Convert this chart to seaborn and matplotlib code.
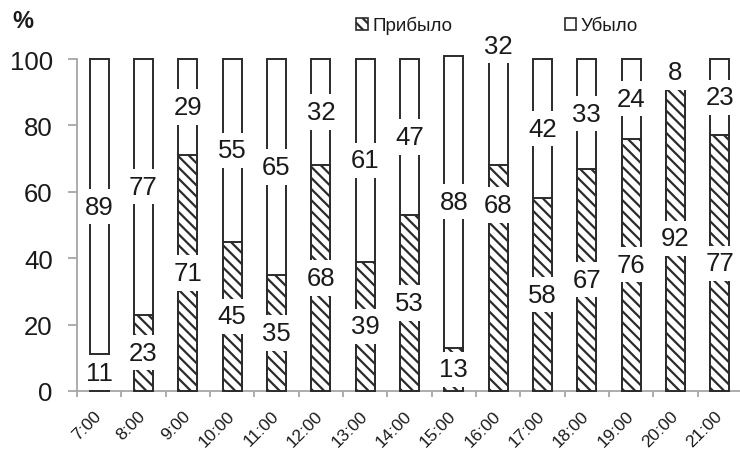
import numpy as np
import pandas as pd
import matplotlib
matplotlib.use("Agg")
import matplotlib.pyplot as plt
import matplotlib.transforms as mtransforms
from matplotlib.patches import Patch
from matplotlib.ticker import FixedLocator
import seaborn as sns

# Hourly shares (%) of arrivals and departures
hours = ["7:00", "8:00", "9:00", "10:00", "11:00", "12:00", "13:00", "14:00",
         "15:00", "16:00", "17:00", "18:00", "19:00", "20:00", "21:00"]
arrived = [11, 23, 71, 45, 35, 68, 39, 53, 13, 68, 58, 67, 76, 92, 77]
departed = [89, 77, 29, 55, 65, 32, 61, 47, 88, 32, 42, 33, 24, 8, 23]
y_ticks = [0, 20, 40, 60, 80, 100]

sns.set_theme(style="white")
plt.rcParams["font.family"] = ["Liberation Sans", "DejaVu Sans"]
plt.rcParams["hatch.linewidth"] = 1.6

df = pd.DataFrame({"hour": hours, "arrived": arrived, "departed": departed})
df["total"] = df["arrived"] + df["departed"]

fig = plt.figure(figsize=(7.4, 4.52), dpi=100)
ax = fig.add_axes([77 / 740, 1 - 392 / 452, 665 / 740, 332 / 452])

edge = "#2b2b2b"
axis_grey = "#a6a6a6"
text_col = "#1a1a1a"

# Full column (departures sit on top of arrivals)
sns.barplot(data=df, x="hour", y="total", color="white", saturation=1,
            edgecolor=edge, linewidth=1.4, width=0.43, ax=ax, clip_on=False,
            zorder=2)
# Arrivals, hatched
sns.barplot(data=df, x="hour", y="arrived", color="white", saturation=1,
            edgecolor=edge, linewidth=1.4, width=0.43, hatch="\\\\\\", ax=ax,
            clip_on=False, zorder=3)

ax.set_xlim(-0.5, len(hours) - 0.5)
ax.set_ylim(0, 100)
ax.set_xlabel("")
ax.set_ylabel("")

# Value labels on white boxes, centred in each segment
label_shift = {"16:00": (22, 20)}  # lift the 16:00 labels clear of the bar
box = dict(boxstyle="square,pad=0.22", facecolor="white", edgecolor="none")
for i, row in df.iterrows():
    lo_shift, hi_shift = label_shift.get(row["hour"], (0, 0))
    y_lo = row["arrived"] / 2 + lo_shift
    y_hi = row["arrived"] + row["departed"] / 2 + hi_shift
    ax.text(i, y_lo, f"{row['arrived']}", ha="center", va="center",
            fontsize=18.5, color=text_col, bbox=box, zorder=6, clip_on=False)
    ax.text(i, y_hi, f"{row['departed']}", ha="center", va="center",
            fontsize=18.5, color=text_col, bbox=box, zorder=6, clip_on=False)

# Axes styling
for side in ("top", "right"):
    ax.spines[side].set_visible(False)
for side in ("left", "bottom"):
    ax.spines[side].set_color(axis_grey)
    ax.spines[side].set_linewidth(1.3)

ax.set_yticks(y_ticks)
ax.tick_params(axis="y", which="major", length=6.5, width=1.3, color=axis_grey,
               labelsize=18.5, labelcolor=text_col, pad=11, left=True,
               direction="out")

ax.set_xticks(range(len(hours)))
ax.set_xticklabels(hours, rotation=45, ha="right")
ax.xaxis.set_minor_locator(FixedLocator(np.arange(-0.5, len(hours), 1.0)))
ax.tick_params(axis="x", which="major", length=0, labelsize=12.5,
               labelcolor=text_col, pad=12)
ax.tick_params(axis="x", which="minor", length=4.5, width=1.3,
               color=axis_grey, bottom=True, direction="out")
shift = mtransforms.ScaledTranslation(5 / 100, 0, fig.dpi_scale_trans)
for lbl in ax.get_xticklabels():
    lbl.set_transform(lbl.get_transform() + shift)

fig.text(12 / 740, 1 - 22 / 452, "%", fontsize=17, fontweight="bold",
         color=text_col, ha="left", va="center")

handles = [
    Patch(facecolor="white", edgecolor=edge, hatch="\\\\\\", linewidth=1.2,
          label="Прибыло"),
    Patch(facecolor="white", edgecolor=edge, linewidth=1.2, label="Убыло"),
]
fig.legend(handles=handles, loc="center", bbox_to_anchor=(0.672, 0.942),
           ncol=2, frameon=False, fontsize=13.5, handlelength=0.6,
           handleheight=0.6, handletextpad=0.25, columnspacing=6.0,
           labelcolor=text_col)

fig.savefig("out.png", dpi=100, facecolor="white")
